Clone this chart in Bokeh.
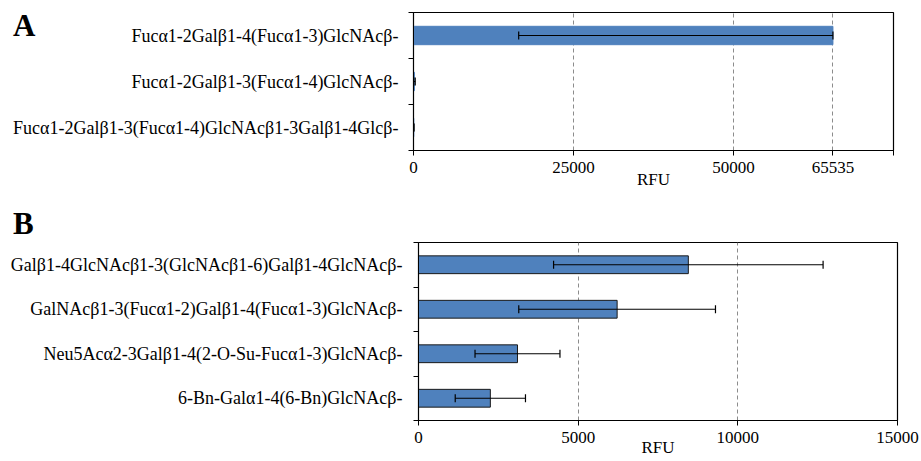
from bokeh.plotting import figure
from bokeh.models import Range1d, FixedTicker, Whisker, TeeHead, ColumnDataSource, Div
from bokeh.layouts import column
from bokeh.embed import file_html
from bokeh.resources import INLINE

# ---------------- data ----------------
a_labels = ["Fucα1-2Galβ1-4(Fucα1-3)GlcNAcβ-",
            "Fucα1-2Galβ1-3(Fucα1-4)GlcNAcβ-",
            "Fucα1-2Galβ1-3(Fucα1-4)GlcNAcβ1-3Galβ1-4Glcβ-"]
a_means = [65535, 150, 50]
a_sd = [49100, 120, 30]
a_saturation = 65535
a_ticks = [0, 25000, 50000, 65535, 75000]
a_tick_labels = ["0", "25000", "50000", "65535", ""]
a_grid = [25000, 50000, 65535]

b_labels = ["Galβ1-4GlcNAcβ1-3(GlcNAcβ1-6)Galβ1-4GlcNAcβ-",
            "GalNAcβ1-3(Fucα1-2)Galβ1-4(Fucα1-3)GlcNAcβ-",
            "Neu5Acα2-3Galβ1-4(2-O-Su-Fucα1-3)GlcNAcβ-",
            "6-Bn-Galα1-4(6-Bn)GlcNAcβ-"]
b_means = [8450, 6220, 3100, 2250]
b_sd = [4220, 3080, 1330, 1100]
b_ticks = [0, 5000, 10000, 15000]
b_grid = [5000, 10000]

FONT = "Liberation Serif"
BAR = "#4F81BD"
W = 921


def panel(labels, means, sd, cap, xmax, ticks, tick_labels, grid, height,
          border_left, border_right, border_top, border_bottom, outline_bar,
          ylabel_standoff, xlabel_standoff):
    n = len(labels)
    pos = [n - 1 - i for i in range(n)]
    lower = [m - s for m, s in zip(means, sd)]
    upper = [min(m + s, cap) if cap else m + s for m, s in zip(means, sd)]
    src = ColumnDataSource(dict(y=pos, mean=means, lower=lower, upper=upper))

    p = figure(width=W, height=height, output_backend="svg", toolbar_location=None,
               x_range=Range1d(0, xmax), y_range=Range1d(-0.5, n - 0.5),
               min_border_left=border_left, min_border_right=border_right,
               min_border_top=border_top, min_border_bottom=border_bottom,
               frame_align=False)
    p.hbar(y="y", left=0, right="mean", height=0.4, source=src, fill_color=BAR,
           line_color="#1a1a1a" if outline_bar else BAR, line_width=1)
    w = Whisker(source=src, base="y", lower="lower", upper="upper", dimension="width",
                line_color="black", line_width=1.2, level="overlay",
                lower_head=TeeHead(size=8, line_color="black", line_width=1.2),
                upper_head=TeeHead(size=8, line_color="black", line_width=1.2))
    p.add_layout(w)

    p.outline_line_color = "black"
    p.outline_line_width = 1.2
    p.ygrid.visible = False
    p.xgrid.ticker = FixedTicker(ticks=grid)
    p.xgrid.grid_line_color = "#8c8c8c"
    p.xgrid.grid_line_dash = "4 3"
    p.xgrid.grid_line_width = 1

    xa = p.xaxis[0]
    xa.ticker = FixedTicker(ticks=ticks)
    xa.major_label_overrides = {t: l for t, l in zip(ticks, tick_labels)}
    xa.minor_tick_line_color = None
    xa.major_tick_in = 0
    xa.major_tick_out = 5
    xa.major_tick_line_color = "black"
    xa.axis_line_color = "black"
    xa.major_label_standoff = 6
    xa.major_label_text_font = FONT
    xa.major_label_text_font_size = "17px"
    xa.major_label_text_color = "black"
    xa.axis_label = "RFU"
    xa.axis_label_text_font = FONT
    xa.axis_label_text_font_size = "17px"
    xa.axis_label_text_font_style = "normal"
    xa.axis_label_text_color = "black"
    xa.axis_label_standoff = xlabel_standoff

    ya = p.yaxis[0]
    ya.ticker = FixedTicker(ticks=pos, minor_ticks=[k - 0.5 for k in range(n + 1)])
    ya.major_label_overrides = {float(k): l for k, l in zip(pos, labels)}
    ya.major_tick_in = 0
    ya.major_tick_out = 0
    ya.minor_tick_in = 0
    ya.minor_tick_out = 5
    ya.minor_tick_line_color = "black"
    ya.axis_line_color = "black"
    ya.major_label_standoff = ylabel_standoff
    ya.major_label_text_font = FONT
    ya.major_label_text_font_size = "18px"
    ya.major_label_text_color = "black"
    return p


pa = panel(a_labels, a_means, a_sd, a_saturation, 75000, a_ticks, a_tick_labels, a_grid,
           200, 413, 28, 12, 50, False, 10, -6)
pb = panel(b_labels, b_means, b_sd, None, 15000, b_ticks, [str(t) for t in b_ticks], b_grid,
           261, 418, 24, 42, 41, True, 11, -8)


def letter(txt, left, top):
    return Div(text=txt, width=40, height=40,
               styles={"position": "absolute", "left": f"{left}px", "top": f"{top}px",
                       "font-family": FONT, "font-size": "31px", "font-weight": "bold",
                       "color": "black", "line-height": "normal", "margin": "0"})


layout = column(pa, pb, letter("A", 13, 8), letter("B", 13, 206), spacing=0)
open("out.html", "w").write(file_html(layout, INLINE))
